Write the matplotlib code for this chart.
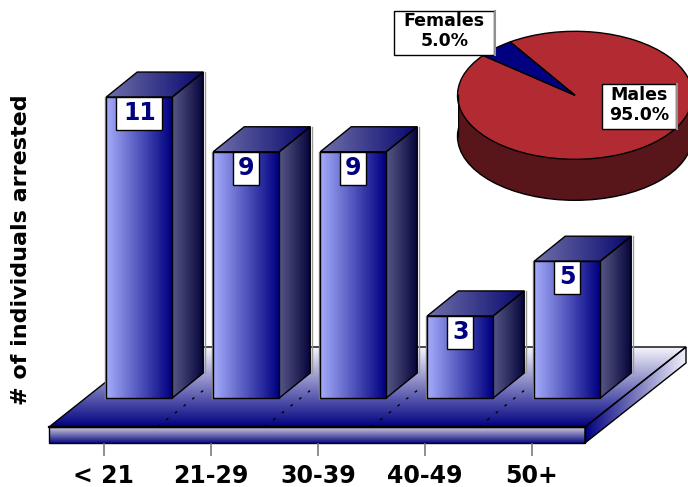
import numpy as np
import matplotlib
matplotlib.use("Agg")
import matplotlib.pyplot as plt
from matplotlib.patches import Polygon, Rectangle, Ellipse

age_groups = ["< 21", "21-29", "30-39", "40-49", "50+"]
arrested = [11, 9, 9, 3, 5]
pie_labels = ["Males\n95.0%", "Females\n5.0%"]
pie_values = [95, 5]

W, H = 688, 487
X0, XS = 139.25, 107.0      # pixel of category 0, pixels per category
Y0, YS = 398.0, 27.36       # pixel of value 0, pixels per unit
NAVY = (0, 0, 128)

def dx(p): return (p - X0) / XS
def dy(p): return (Y0 - p) / YS
def P(*pts): return [(dx(a), dy(b)) for a, b in pts]

def ramp(c0, c1, n=128, vertical=False):
    c = np.linspace(np.array(c0) / 255, np.array(c1) / 255, n)
    return c[:, None, :] if vertical else c[None, :, :]

fig = plt.figure(figsize=(W / 100, H / 100), dpi=100, facecolor="white")
ax = fig.add_axes([0, 0, 1, 1], zorder=3)
ax.patch.set_visible(False)

def shade(pts, c0, c1, vertical=False, z=1, lw=1.0, ec="black"):
    poly = Polygon(P(*pts), closed=True, fc="none", ec=ec, lw=lw, zorder=z + 0.01)
    ax.add_patch(poly)
    xs = [p[0] for p in pts]; ys = [p[1] for p in pts]
    im = ax.imshow(ramp(c0, c1, vertical=vertical), aspect="auto", origin="upper",
                   extent=(dx(min(xs)), dx(max(xs)), dy(max(ys)), dy(min(ys))),
                   zorder=z, interpolation="bilinear")
    im.set_clip_path(poly)

# platform
shade([(49, 427), (150, 347), (686, 347), (585, 427)], (245, 245, 252), (0, 0, 128), vertical=True, z=1)
shade([(49, 427), (585, 427), (585, 443), (49, 443)], (205, 205, 225), (10, 10, 130), vertical=True, z=1)
shade([(585, 427), (686, 347), (686, 363), (585, 443)], (0, 0, 128), (240, 240, 250), z=1)
ax.plot(*zip(*P((49, 427), (585, 427))), color="black", lw=1.6, zorder=1.5)

# depth grid on the platform
for i in range(len(arrested) - 1):
    x = 157.5 + XS * i
    ax.plot(*zip(*P((x, 427), (x + 50, 387))), color="black", lw=1.0,
            ls=(0, (2, 6)), zorder=1.6)

# bars
BAR_W = 66 / XS
DX, DY = 31 / XS, 25 / YS
positions = np.arange(len(arrested))
for i, v in zip(positions, arrested):
    z = 2 + i
    l, r = i - BAR_W / 2, i + BAR_W / 2
    to_px = lambda a, b: (X0 + a * XS, Y0 - b * YS)
    # right face
    side = [to_px(r, 0), to_px(r + DX, DY), to_px(r + DX, v + DY), to_px(r, v)]
    shade(side, (88, 88, 135), (6, 6, 60), z=z)
    # top face
    top = [to_px(l, v), to_px(l + DX, v + DY), to_px(r + DX, v + DY), to_px(r, v)]
    shade(top, (112, 112, 170), (8, 8, 110), z=z)
    # soft grey edges
    ax.plot([l - 0.012] * 2, [0, v], color="#8a8a8a", lw=1, zorder=z)
    ax.plot([r + DX + 0.012] * 2, [DY, v + DY], color="#9a9a9a", lw=1, zorder=z)
    # front face
    rect = ax.bar(i, v, width=BAR_W, fc="none", ec="black", lw=1.0, zorder=z + 0.3)[0]
    im = ax.imshow(ramp((165, 172, 250), NAVY), aspect="auto",
                   extent=(l, r, 0, v), zorder=z + 0.2, interpolation="bilinear")
    im.set_clip_path(rect)
    # value label
    bw = (46 if v >= 10 else 26) / XS
    bh = 33 / YS
    ax.add_patch(Rectangle((i - bw / 2, v - bh), bw, bh, fc="white", ec="black",
                           lw=1.0, zorder=z + 0.4))
    ax.text(i, v - bh / 2 + 0.02, str(v), ha="center", va="center", color="#000080",
            fontsize=17, fontweight="bold", family="DejaVu Sans", zorder=z + 0.5)

ax.set_xlim(dx(0), dx(W))
ax.set_ylim(dy(H), dy(0))

# axis
ax.spines[["top", "left", "right"]].set_visible(False)
ax.spines["bottom"].set_position(("data", dy(443)))
ax.spines["bottom"].set_color("none")
ax.set_xticks(positions - 35.5 / XS, age_groups, fontsize=17, fontweight="bold",
              family="DejaVu Sans")
ax.tick_params(axis="x", length=9.4, width=1.1, color="#707070", pad=5.5, direction="out")
ax.set_yticks([])
ylab = ax.set_ylabel("# of individuals arrested", fontsize=16, fontweight="bold",
                     family="DejaVu Sans", va="center")
ax.yaxis.set_label_coords(21 / W, 1 - 250 / H)

# pie inset
RX, RY, TH = 117.5, 64.0, 41.0
cx, cy = 575.0, 95.3
pax = fig.add_axes([(cx - RX) / W, 1 - (cy + RY + TH) / H, 2 * RX / W, (2 * RY + TH) / H], zorder=2)
pax.patch.set_visible(False)
DARK = "#58161a"
t = TH / RY
pax.add_patch(Ellipse((0, -t), 2, 2, fc=DARK, ec="black", lw=1))
pax.add_patch(Rectangle((-1, -t), 2, t, fc=DARK, ec="none"))
pax.plot([-1, -1], [-t, 0], color="black", lw=1)
pax.pie(pie_values, colors=["#b22a32", "#000080"], startangle=141.5, radius=1,
        wedgeprops=dict(edgecolor="black", linewidth=1.0))
pax.set_aspect("auto")
pax.set_xlim(-1, 1)
pax.set_ylim(-1 - t, 1)
pax.axis("off")
for c in pax.patches:
    c.set_clip_on(False)

# pie labels
def pie_box(x0, y0, x1, y1, label, yc):
    ax.add_patch(Rectangle((dx(x0), dy(y1)), (x1 - x0) / XS, (y1 - y0) / YS, fc="white",
                           ec="black", lw=1.0, zorder=20))
    ax.plot([dx(x1 + 1)] * 2, [dy(y0), dy(y1)], color="#909090", lw=1.5, zorder=20)
    ax.text(dx((x0 + x1) / 2), dy(yc), label, ha="center", va="center", fontsize=12.5,
            fontweight="bold", family="DejaVu Sans", linespacing=1.15, zorder=21)

pie_box(601.7, 84.3, 676, 129, pie_labels[0], 105)
pie_box(394.3, 10.7, 494, 55, pie_labels[1], 31)

fig.savefig("out.png", dpi=100)
